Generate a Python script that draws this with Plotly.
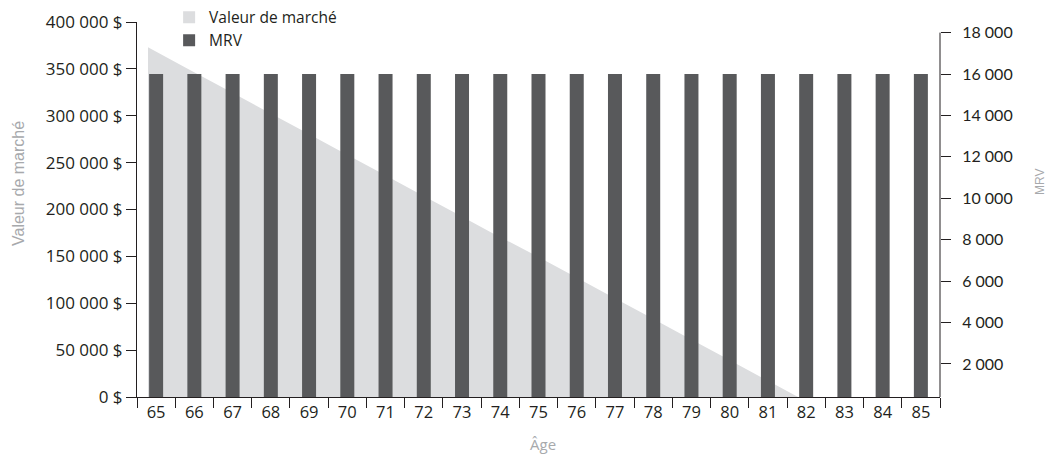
import plotly.graph_objects as go

# ---- data ----
ages = ["65", "66", "67", "68", "69", "70", "71", "72", "73", "74", "75",
        "76", "77", "78", "79", "80", "81", "82", "83", "84", "85"]
ages_num = [65, 66, 67, 68, 69, 70, 71, 72, 73, 74, 75,
            76, 77, 78, 79, 80, 81, 82, 83, 84, 85]
market_value = [373000, 351000, 329000, 307000, 285000, 263000, 241000, 219000,
                197000, 175000, 154000, 132000, 110000, 88000, 66000, 44000,
                22000, 0, None, None, None]
mrv = [16000, 16000, 16000, 16000, 16000, 16000, 16000, 16000, 16000, 16000,
       16000, 16000, 16000, 16000, 16000, 16000, 16000, 16000, 16000, 16000, 16000]

# ---- style ----
AREA_COLOR = "#dcdddf"
BAR_COLOR = "#58595b"
TEXT_COLOR = "#231f20"
TITLE_COLOR = "#a7a9ac"
FONT = "Open Sans"
RIGHT_FONT = "Lato"
AREA_SHIFT = 0.212  # area drawn slightly left of category centres
Y2_RANGE = [406, 18512]
Y2_TOP_TICK = 18000

fig = go.Figure()

# area (main subplot, hidden numeric x axis)
fig.add_trace(go.Scatter(
    x=ages_num, y=market_value, name="Valeur de marché",
    mode="none", fill="tozeroy", fillcolor=AREA_COLOR,
    xaxis="x", yaxis="y", hoverinfo="skip", showlegend=False,
))

# legend swatch for the area
fig.add_trace(go.Scatter(
    x=[None], y=[None], name="Valeur de marché", mode="markers",
    marker=dict(symbol="square", size=12, color=AREA_COLOR, line=dict(width=0)),
    xaxis="x2", yaxis="y2", showlegend=True, hoverinfo="skip",
))

fig.add_trace(go.Bar(
    x=ages, y=mrv, name="MRV", marker=dict(color=BAR_COLOR, line=dict(width=0)),
    xaxis="x2", yaxis="y2",
))

fig.update_layout(
    width=1057, height=456,
    margin=dict(l=137, r=117, t=22, b=59, autoexpand=False),
    paper_bgcolor="white", plot_bgcolor="rgba(0,0,0,0)",
    font=dict(family=FONT, size=16, color=TEXT_COLOR),
    separators=", ",
    bargap=0.634,
    barmode="overlay",
    showlegend=True,
    legend=dict(x=0.04, y=1.057, xanchor="left", yanchor="top",
                bgcolor="rgba(0,0,0,0)", font=dict(size=15.5, color=TEXT_COLOR),
                tracegroupgap=0, itemwidth=30, traceorder="normal"),
    xaxis=dict(
        range=[64.5 + AREA_SHIFT, 85.5 + AREA_SHIFT],
        visible=False, showgrid=False, zeroline=False,
    ),
    xaxis2=dict(
        overlaying="x", anchor="y", side="bottom",
        type="category", categoryorder="array", categoryarray=ages,
        range=[-0.5, len(ages) - 0.5],
        showline=True, linecolor=TEXT_COLOR, linewidth=1,
        ticks="outside", ticklen=10, tickcolor=TEXT_COLOR, tickwidth=1,
        tickson="boundaries", showgrid=False, zeroline=False,
        layer="below traces",
        tickfont=dict(family=FONT, size=16.5, color=TEXT_COLOR),
    ),
    yaxis=dict(
        range=[0, 400000], tick0=0, dtick=50000, tickformat=",d",
        ticksuffix=" $", showline=True, linecolor=TEXT_COLOR, linewidth=1,
        ticks="outside", ticklen=10, tickcolor=TEXT_COLOR,
        showgrid=False, zeroline=False,
        tickfont=dict(family=FONT, size=17, color=TEXT_COLOR),
    ),
    yaxis2=dict(
        overlaying="y", anchor="x2", side="right",
        range=Y2_RANGE, tick0=0, dtick=2000, tickformat=",d",
        showline=False,
        ticks="outside", ticklen=10, tickcolor=TEXT_COLOR,
        ticklabelstandoff=8,
        showgrid=False, zeroline=False,
        tickfont=dict(family=RIGHT_FONT, size=16, color=TEXT_COLOR),
    ),
    shapes=[
        dict(type="line", xref="paper", yref="y2", x0=1, x1=1,
             y0=Y2_RANGE[0], y1=Y2_TOP_TICK,
             line=dict(color=TEXT_COLOR, width=1)),
    ],
    annotations=[
        dict(text="Valeur de marché", xref="paper", yref="paper",
             x=(18 - 137) / 803, y=(397 - 183) / 375, textangle=-90, showarrow=False,
             xanchor="center", yanchor="middle",
             font=dict(family="Liberation Sans", size=16, color=TITLE_COLOR)),
        dict(text="MRV", xref="paper", yref="paper",
             x=(1040 - 137) / 803, y=(397 - 182) / 375, textangle=-90, showarrow=False,
             xanchor="center", yanchor="middle",
             font=dict(family="Liberation Sans", size=12, color=TITLE_COLOR)),
        dict(text="Âge", xref="paper", yref="paper",
             x=(543 - 137) / 803, y=-(444 - 397) / 375, showarrow=False,
             xanchor="center", yanchor="middle",
             font=dict(family=FONT, size=15, color=TITLE_COLOR)),
    ],
)

fig.write_html("out.html")
